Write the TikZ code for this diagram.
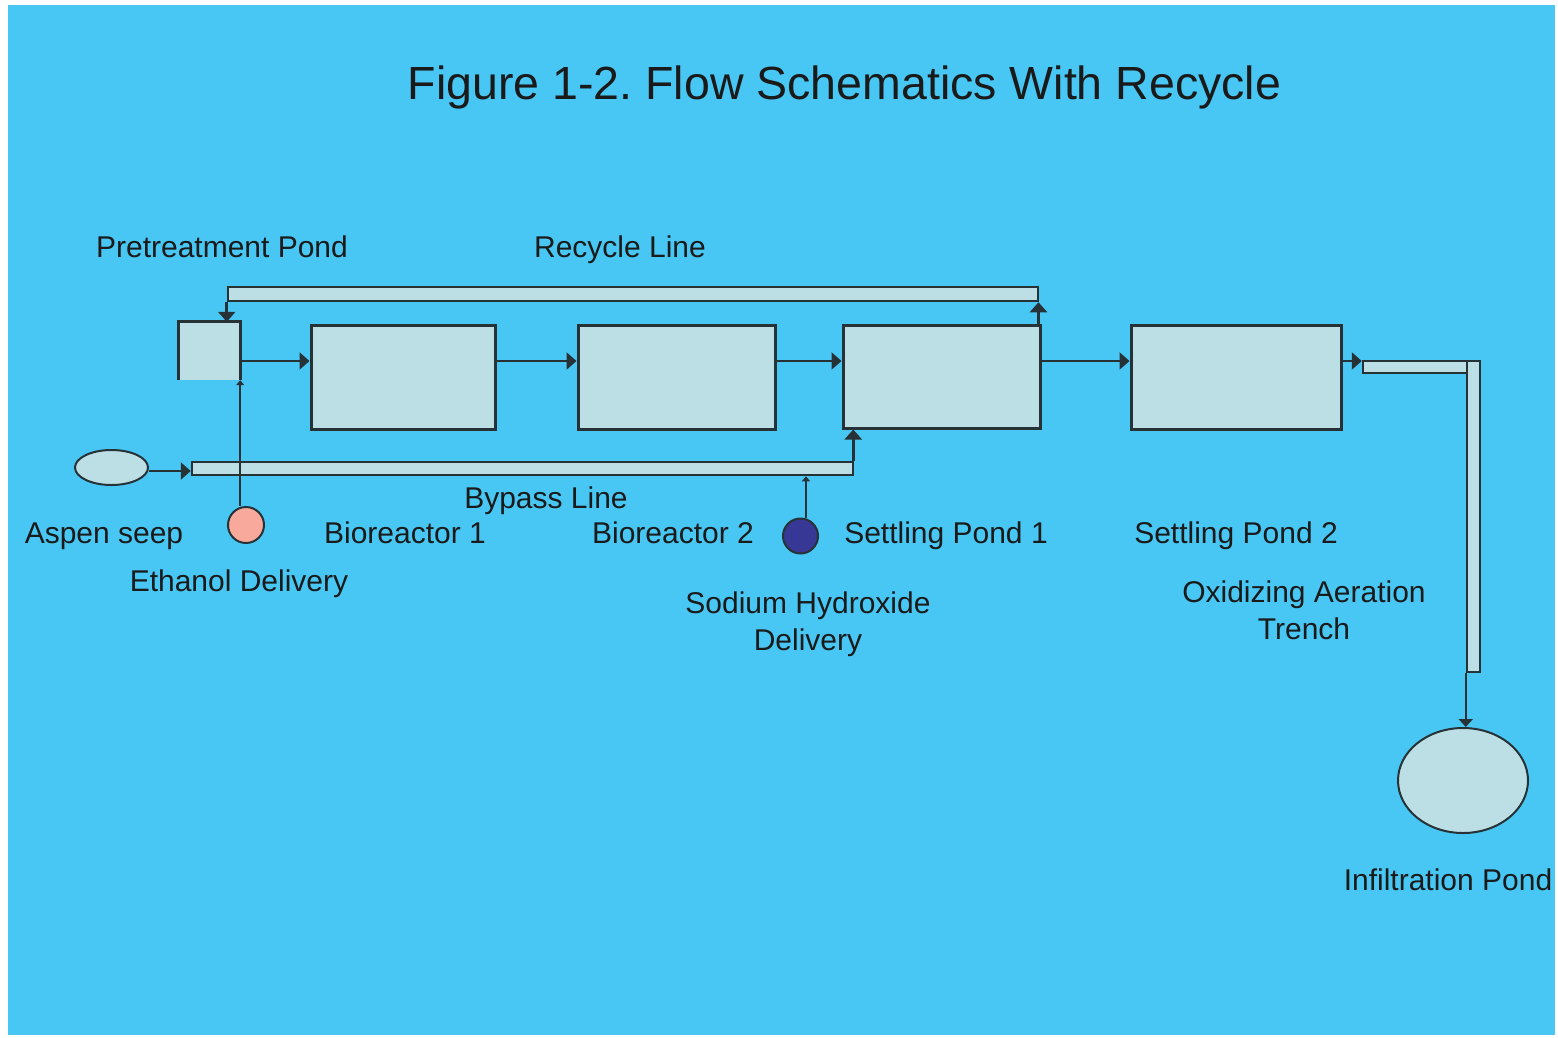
\documentclass[tikz,border=0pt]{standalone}
\usepackage{fontspec}
\setmainfont{Liberation Sans}
\usetikzlibrary{arrows.meta,shapes.geometric}

\definecolor{sky}{HTML}{48C7F4}
\definecolor{pale}{HTML}{BCDFE5}
\definecolor{edge}{HTML}{263236}
\definecolor{ink}{HTML}{1A1A1A}
\definecolor{salmon}{HTML}{F9A99B}
\definecolor{indigo}{HTML}{373796}

\frenchspacing
\begin{document}
\begin{tikzpicture}[x=1pt,y=-1pt,
  tank/.style={draw=edge,fill=pale,line width=3pt,inner sep=0pt,rectangle},
  pipe/.style={draw=edge,fill=pale,line width=2.5pt,inner sep=0pt,rectangle},
  pond/.style={draw=edge,fill=pale,line width=2pt,inner sep=0pt,ellipse},
  dose/.style={draw=edge,line width=2pt,inner sep=0pt,circle},
  lbl/.style={text=ink,font=\fontsize{30}{37}\selectfont,inner sep=0pt,anchor=base},
  flow/.style={draw=edge,line width=2.8pt,-{Triangle[length=10pt,width=17pt]}},
  feed/.style={draw=edge,line width=2.2pt,-{Triangle[length=5pt,width=8pt]}},
]
% page and backdrop
\useasboundingbox (0,0) rectangle (1558,1037);
\fill[white] (0,0) rectangle (1558,1037);
\fill[sky] (8,5) rectangle (1555,1035);

% title
\node[lbl,font=\fontsize{46.5}{56}\selectfont] (title) at (844.5,99) {Figure 1-2. Flow Schematics With Recycle};

% pipes
\node[pipe,minimum width=810pt,minimum height=14pt] (rec) at (633,294) {};
\node[pipe,minimum width=661pt,minimum height=13pt] (bypass) at (522.5,468.5) {};
\node[pipe,minimum width=117pt,minimum height=12pt] (trh) at (1421.5,367) {};
\node[pipe,minimum width=13pt,minimum height=311pt] (trv) at (1473.5,516.5) {};

% pretreatment pond: open along its lower side
\node[fill=pale,inner sep=0pt,minimum width=61pt,minimum height=58pt] (pre) at (209.5,351) {};
\draw[edge,line width=3pt] (pre.south west) -- (pre.north west) -- (pre.north east) -- (pre.south east);

% treatment cells
\node[tank,minimum width=184pt,minimum height=104pt] (bio1) at (403,377) {};
\node[tank,minimum width=197pt,minimum height=104pt] (bio2) at (676.5,377) {};
\node[tank,minimum width=197pt,minimum height=103pt] (sp1) at (941.5,376.5) {};
\node[tank,minimum width=210pt,minimum height=104pt] (sp2) at (1236,377) {};

% source, outfall and dosing points
\node[pond,minimum width=73pt,minimum height=35pt] (seep) at (111.5,467.5) {};
\node[pond,minimum width=130pt,minimum height=105pt] (infil) at (1463,780.5) {};
\node[dose,fill=salmon,minimum size=36pt] (eth) at (246,525) {};
\node[dose,fill=indigo,minimum size=35pt] (naoh) at (800.5,536) {};

% main flow
\coordinate (fl) at (0,361);
\draw[flow] (pre.east |- fl) -- (bio1.west |- fl);
\draw[flow] (bio1.east |- fl) -- (bio2.west |- fl);
\draw[flow] (bio2.east |- fl) -- (sp1.west |- fl);
\draw[flow] (sp1.east |- fl) -- (sp2.west |- fl);
\draw[flow] (sp2.east |- fl) -- (trh.west |- fl);

% recycle line
\draw[flow] ([xshift=-3pt]sp1.north east) -- ([xshift=-3pt]sp1.north east |- rec.south);
\draw[flow] (rec.south west) -- (rec.south west |- pre.north);

% bypass line
\coordinate (byin) at (0,471);
\draw[flow] (seep.east |- byin) -- (bypass.west |- byin);
\draw[flow] ([xshift=-1pt]bypass.north east) -- ([xshift=-1pt]bypass.north east |- sp1.south);

% chemical delivery
\draw[feed] (eth.north -| pre.east) -- (pre.south east);
\draw[feed] ([xshift=5.5pt]naoh.north) -- ([xshift=5.5pt]naoh.north |- bypass.south);

% aeration trench to infiltration pond
\draw[draw=edge,line width=2.2pt,-{Triangle[length=8pt,width=14pt]}] (trv.south west) -- (trv.south west |- infil.north);

% labels
\node[lbl] (l-pre) at (222,257) {Pretreatment Pond};
\node[lbl] (l-rec) at (620,257) {Recycle Line};
\node[lbl] (l-byp) at (546,508) {Bypass Line};
\node[lbl] (l-seep) at (104,543) {Aspen seep};
\node[lbl] (l-bio1) at (405,543) {Bioreactor 1};
\node[lbl] (l-bio2) at (673,543) {Bioreactor 2};
\node[lbl] (l-sp1) at (946,543) {Settling Pond 1};
\node[lbl] (l-sp2) at (1236,543) {Settling Pond 2};
\node[lbl] (l-eth) at (239,591) {Ethanol Delivery};
\node[lbl] (l-naoh1) at (808,613) {Sodium Hydroxide};
\node[lbl] (l-naoh2) at (808,650) {Delivery};
\node[lbl] (l-tr1) at (1304,602) {Oxidizing Aeration};
\node[lbl] (l-tr2) at (1304,639) {Trench};
\node[lbl] (l-inf) at (1448,890) {Infiltration Pond};
\end{tikzpicture}
\end{document}
